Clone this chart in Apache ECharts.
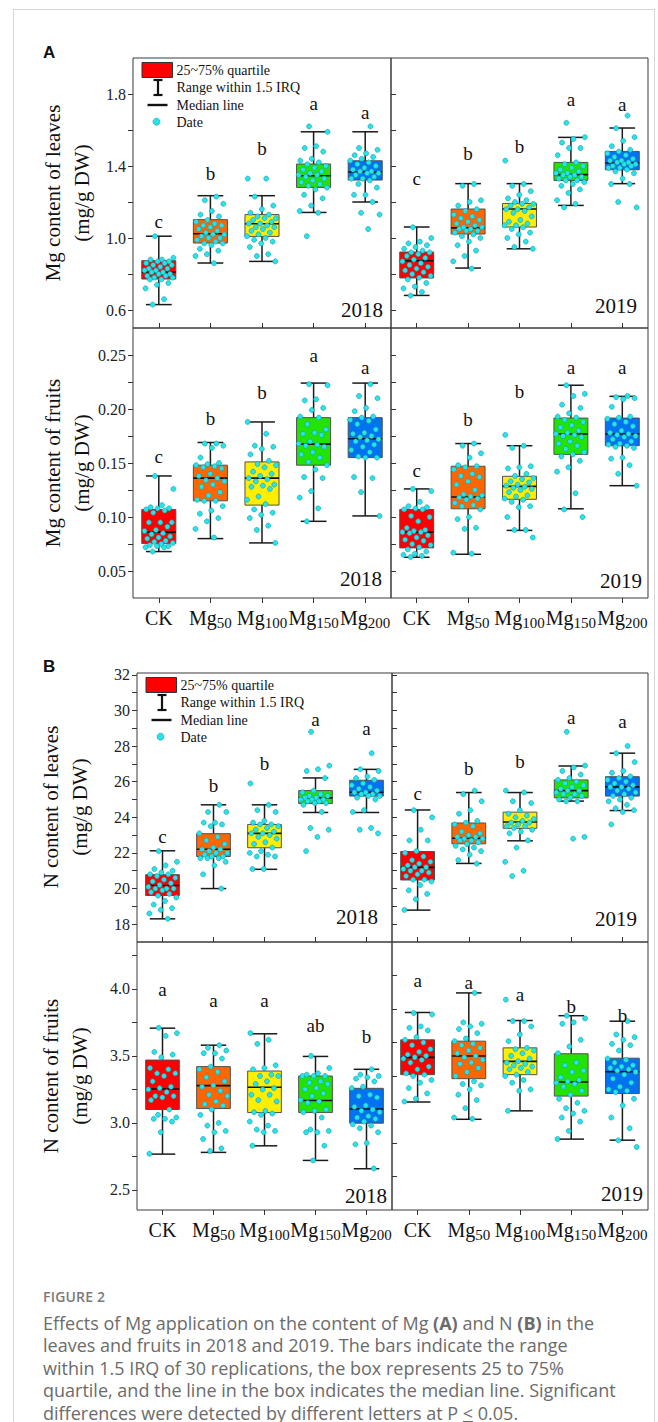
<!DOCTYPE html>
<html><head><meta charset="utf-8">
<script src="https://cdn.jsdelivr.net/npm/echarts@6/dist/echarts.min.js"></script>
<style>
html,body{margin:0;padding:0;background:#fff;}
#frame{position:absolute;left:13px;top:9px;width:640px;height:1500px;border:1.5px solid #d6d6d6;border-bottom:none;}
#chart{position:absolute;left:0;top:0;width:658px;height:1422px;}
#cap{position:absolute;left:43px;top:1287px;width:612px;font-family:'Open Sans',sans-serif;color:#6b6b6b;}
#cap .t{font-size:14px;font-weight:600;line-height:20px;color:#7a7a7a;letter-spacing:0.2px;}
#cap .d{font-size:18px;line-height:22.5px;margin-top:4.5px;white-space:nowrap;}
</style></head>
<body>
<div id="frame"></div>
<div id="chart"></div>
<div id="cap"><div class="t">FIGURE 2</div><div class="d">Effects of Mg application on the content of Mg <b>(A)</b> and N <b>(B)</b> in the<br>leaves and fruits in 2018 and 2019. The bars indicate the range<br>within 1.5 IRQ of 30 replications, the box represents 25 to 75%<br>quartile, and the line in the box indicates the median line. Significant<br>differences were detected by different letters at P <span style="text-decoration:underline">&lt;</span> 0.05.</div></div>
<script>
// ---------- DATA ----------
const categories = ['CK', 'Mg50', 'Mg100', 'Mg150', 'Mg200'];
const years = ['2018', '2019'];

const mgLeafTicks = [0.6, 0.8, 1.0, 1.2, 1.4, 1.6, 1.8];
const mgLeafLabels = [0.6, 1.0, 1.4, 1.8];
const mgFruitTicks = [0.05, 0.075, 0.1, 0.125, 0.15, 0.175, 0.2, 0.225, 0.25];
const mgFruitLabels = [0.05, 0.10, 0.15, 0.20, 0.25];
const nLeafTicks = [18, 19, 20, 21, 22, 23, 24, 25, 26, 27, 28, 29, 30, 31, 32];
const nLeafLabels = [18, 20, 22, 24, 26, 28, 30, 32];
const nFruitTicks = [2.5, 2.75, 3.0, 3.25, 3.5, 3.75, 4.0, 4.25];
const nFruitLabels = [2.5, 3.0, 3.5, 4.0];
const nFruit2019Ticks = [2.6, 2.85, 3.1, 3.35, 3.6, 3.85, 4.1];

// box stats: [lower whisker, Q1, median, Q3, upper whisker]
const mgLeaf2018Box = [[0.63,0.772,0.811,0.874,1.01],[0.861,0.972,1.024,1.102,1.235],[0.87,1.009,1.079,1.13,1.235],[1.142,1.281,1.346,1.411,1.59],[1.20,1.322,1.367,1.429,1.59]];
const mgLeaf2019Box = [[0.681,0.778,0.874,0.922,1.061],[0.833,1.022,1.056,1.161,1.302],[0.94,1.061,1.161,1.192,1.302],[1.181,1.32,1.352,1.42,1.559],[1.302,1.379,1.417,1.481,1.611]];
const mgFruit2018Box = [[0.068,0.0755,0.086,0.107,0.138],[0.080,0.115,0.136,0.148,0.169],[0.076,0.111,0.136,0.151,0.188],[0.096,0.148,0.1675,0.192,0.224],[0.101,0.155,0.1724,0.192,0.224]];
const mgFruit2019Box = [[0.0627,0.0714,0.086,0.107,0.126],[0.0655,0.1076,0.1185,0.147,0.168],[0.0876,0.1164,0.1284,0.1377,0.166],[0.1076,0.158,0.1768,0.1916,0.222],[0.129,0.166,0.1768,0.1916,0.2117]];
const nLeaf2018Box = [[18.30,19.61,20.17,20.78,22.12],[20.0,21.80,22.21,23.08,24.70],[21.08,22.29,23.10,23.60,24.70],[24.27,24.77,25.09,25.50,26.21],[24.27,25.19,25.41,26.08,26.69]];
const nLeaf2019Box = [[18.79,20.48,21.19,22.08,24.41],[21.41,22.51,22.82,23.68,25.39],[22.68,23.38,23.74,24.29,25.39],[24.91,25.09,25.50,26.10,26.88],[24.38,25.19,25.71,26.28,27.60]];
const nFruit2018Box = [[2.767,3.10,3.253,3.469,3.707],[2.78,3.107,3.278,3.42,3.58],[2.829,3.077,3.266,3.387,3.665],[2.72,3.077,3.167,3.35,3.496],[2.658,2.998,3.104,3.258,3.40]];
const nFruit2019Box = [[3.156,3.36,3.489,3.62,3.824],[3.027,3.33,3.499,3.61,3.97],[3.09,3.36,3.459,3.56,3.764],[2.879,3.20,3.305,3.516,3.80],[2.871,3.219,3.382,3.483,3.759]];

// individual replicates
const mgLeaf2018Pts = [
 [1.01,0.89,0.88,0.88,0.87,0.87,0.86,0.86,0.85,0.85,0.84,0.83,0.83,0.82,0.82,0.81,0.81,0.80,0.80,0.79,0.79,0.78,0.78,0.77,0.77,0.75,0.74,0.72,0.66,0.63],
 [1.23,1.21,1.19,1.15,1.13,1.12,1.10,1.09,1.08,1.07,1.07,1.06,1.05,1.04,1.03,1.02,1.02,1.01,1.00,1.00,0.99,0.98,0.97,0.97,0.96,0.94,0.93,0.91,0.90,0.86],
 [1.33,1.33,1.23,1.18,1.16,1.14,1.13,1.12,1.11,1.11,1.10,1.09,1.08,1.08,1.07,1.06,1.06,1.05,1.04,1.03,1.02,1.01,1.00,0.99,0.98,0.97,0.95,0.91,0.90,0.87],
 [1.62,1.59,1.51,1.50,1.48,1.44,1.43,1.42,1.41,1.40,1.39,1.38,1.37,1.36,1.35,1.35,1.34,1.33,1.32,1.31,1.30,1.29,1.28,1.27,1.24,1.22,1.18,1.15,1.14,1.01],
 [1.62,1.50,1.49,1.47,1.46,1.45,1.44,1.43,1.42,1.41,1.40,1.39,1.38,1.37,1.37,1.36,1.36,1.35,1.34,1.33,1.33,1.32,1.30,1.28,1.24,1.24,1.20,1.14,1.13,1.05]];
const mgLeaf2019Pts = [
 [1.06,1.00,0.98,0.97,0.96,0.95,0.94,0.93,0.92,0.92,0.91,0.90,0.89,0.88,0.87,0.86,0.85,0.84,0.83,0.82,0.81,0.80,0.79,0.78,0.77,0.75,0.73,0.72,0.70,0.68],
 [1.30,1.29,1.21,1.20,1.18,1.16,1.15,1.13,1.12,1.11,1.10,1.09,1.08,1.07,1.06,1.06,1.05,1.05,1.04,1.04,1.03,1.02,1.01,1.00,0.98,0.96,0.93,0.90,0.87,0.83],
 [1.43,1.30,1.29,1.26,1.24,1.22,1.21,1.20,1.19,1.19,1.18,1.17,1.16,1.16,1.15,1.14,1.12,1.10,1.09,1.08,1.07,1.07,1.06,1.05,1.03,1.02,1.00,0.98,0.95,0.94],
 [1.64,1.56,1.55,1.53,1.50,1.50,1.46,1.42,1.41,1.40,1.39,1.38,1.37,1.36,1.36,1.35,1.35,1.34,1.34,1.33,1.32,1.32,1.31,1.30,1.29,1.27,1.25,1.21,1.19,1.17],
 [1.68,1.61,1.56,1.54,1.51,1.49,1.48,1.47,1.46,1.45,1.44,1.43,1.43,1.42,1.42,1.41,1.41,1.40,1.40,1.39,1.39,1.38,1.37,1.36,1.33,1.30,1.30,1.20,1.17]];
const mgFruit2018Pts = [
 [0.138,0.126,0.111,0.109,0.108,0.108,0.107,0.106,0.104,0.095,0.095,0.095,0.091,0.088,0.087,0.085,0.084,0.082,0.081,0.080,0.078,0.077,0.076,0.075,0.074,0.073,0.073,0.072,0.072,0.068],
 [0.168,0.168,0.166,0.164,0.155,0.150,0.149,0.148,0.147,0.146,0.145,0.140,0.138,0.136,0.134,0.133,0.130,0.128,0.123,0.120,0.116,0.115,0.115,0.110,0.106,0.103,0.099,0.096,0.089,0.081],
 [0.188,0.177,0.166,0.165,0.163,0.158,0.152,0.149,0.148,0.146,0.142,0.140,0.138,0.136,0.135,0.133,0.130,0.129,0.128,0.126,0.119,0.116,0.112,0.107,0.104,0.102,0.099,0.092,0.088,0.076],
 [0.223,0.222,0.209,0.208,0.201,0.199,0.193,0.192,0.186,0.181,0.178,0.177,0.176,0.170,0.168,0.167,0.166,0.165,0.160,0.158,0.155,0.151,0.148,0.144,0.137,0.136,0.124,0.118,0.108,0.096],
 [0.223,0.212,0.210,0.201,0.198,0.193,0.192,0.190,0.189,0.186,0.181,0.178,0.177,0.175,0.174,0.172,0.171,0.170,0.167,0.165,0.162,0.160,0.156,0.155,0.155,0.137,0.136,0.123,0.101]];
const mgFruit2019Pts = [
 [0.126,0.124,0.114,0.110,0.109,0.108,0.107,0.107,0.101,0.100,0.096,0.090,0.088,0.087,0.086,0.086,0.085,0.083,0.081,0.079,0.078,0.075,0.074,0.072,0.070,0.068,0.066,0.065,0.064,0.063],
 [0.168,0.166,0.159,0.155,0.148,0.147,0.146,0.144,0.140,0.138,0.137,0.133,0.130,0.125,0.121,0.120,0.119,0.118,0.117,0.116,0.113,0.111,0.110,0.107,0.100,0.098,0.090,0.089,0.067,0.066],
 [0.176,0.166,0.164,0.147,0.146,0.145,0.140,0.138,0.136,0.135,0.133,0.132,0.130,0.129,0.128,0.127,0.126,0.125,0.123,0.120,0.119,0.117,0.116,0.114,0.110,0.109,0.100,0.088,0.088,0.081],
 [0.222,0.214,0.212,0.204,0.201,0.196,0.193,0.192,0.190,0.188,0.185,0.183,0.180,0.178,0.177,0.176,0.175,0.174,0.170,0.168,0.166,0.163,0.160,0.158,0.156,0.152,0.146,0.142,0.122,0.107,0.100],
 [0.212,0.211,0.210,0.209,0.202,0.193,0.192,0.191,0.188,0.186,0.184,0.180,0.178,0.177,0.176,0.175,0.174,0.172,0.170,0.168,0.167,0.166,0.165,0.164,0.155,0.154,0.148,0.140,0.129]];
const nLeaf2018Pts = [
 [22.1,21.5,21.3,21.1,21.0,20.9,20.8,20.8,20.7,20.6,20.5,20.4,20.3,20.2,20.1,20.0,20.0,20.0,19.9,19.8,19.7,19.6,19.5,19.3,19.1,18.9,18.8,18.6,18.3],
 [24.7,24.3,24.3,23.7,23.7,23.6,23.5,23.1,22.9,22.7,22.5,22.3,22.2,22.2,22.1,22.0,22.0,21.9,21.8,21.8,21.7,21.7,21.7,21.5,21.3,20.8,20.0],
 [25.9,24.7,24.4,24.3,23.8,23.7,23.6,23.6,23.5,23.4,23.3,23.2,23.1,23.1,23.0,22.9,22.8,22.6,22.5,22.3,22.1,22.0,21.9,21.8,21.8,21.1,21.1],
 [28.8,26.9,26.7,26.6,26.2,25.5,25.4,25.3,25.2,25.2,25.1,25.1,25.0,25.0,25.0,24.9,24.9,24.8,24.8,24.7,24.3,23.4,23.3,22.9,22.1],
 [27.6,26.7,26.6,26.3,26.2,26.1,25.9,25.8,25.7,25.6,25.5,25.4,25.4,25.3,25.3,25.2,25.2,25.1,25.0,24.4,24.3,23.4,23.3,23.1]];
const nLeaf2019Pts = [
 [24.4,24.0,23.3,22.7,22.7,22.1,22.0,21.8,21.6,21.5,21.4,21.3,21.2,21.2,21.1,21.0,21.0,20.9,20.8,20.7,20.5,20.5,20.4,20.2,19.9,19.7,19.4,18.8],
 [25.5,25.3,24.9,24.4,24.2,23.8,23.7,23.6,23.5,23.2,23.1,23.0,22.9,22.9,22.8,22.8,22.7,22.7,22.6,22.5,22.4,22.3,22.2,22.1,21.9,21.6,21.4],
 [25.5,25.4,24.9,24.8,24.4,24.2,24.1,24.0,23.9,23.8,23.7,23.7,23.6,23.5,23.5,23.4,23.3,23.2,23.1,22.7,22.3,21.5,21.0,20.7],
 [28.8,26.9,26.8,26.6,26.4,26.2,26.1,26.0,25.9,25.8,25.7,25.6,25.5,25.5,25.4,25.3,25.3,25.2,25.1,25.0,24.9,24.9,22.9,22.8],
 [28.0,27.6,27.1,26.6,26.5,26.3,26.2,26.1,26.0,25.9,25.8,25.7,25.7,25.6,25.5,25.4,25.3,25.2,25.1,25.0,24.9,24.7,24.5,24.4,24.3,23.6]];
const nFruit2018Pts = [
 [3.71,3.67,3.65,3.53,3.51,3.49,3.41,3.40,3.37,3.37,3.35,3.31,3.27,3.26,3.25,3.23,3.20,3.20,3.19,3.17,3.10,3.06,3.04,3.03,3.03,3.01,2.93,2.77],
 [3.58,3.56,3.54,3.52,3.52,3.48,3.42,3.40,3.38,3.34,3.31,3.28,3.27,3.24,3.21,3.20,3.16,3.14,3.13,3.10,3.06,3.00,2.98,2.94,2.93,2.88,2.81,2.79],
 [3.67,3.62,3.59,3.43,3.41,3.40,3.36,3.35,3.35,3.31,3.29,3.26,3.25,3.21,3.21,3.17,3.16,3.09,3.08,3.07,3.06,3.01,2.98,2.95,2.94,2.93,2.83],
 [3.50,3.41,3.37,3.36,3.35,3.35,3.35,3.31,3.30,3.29,3.26,3.25,3.22,3.20,3.17,3.16,3.15,3.10,3.09,3.08,3.04,2.95,2.94,2.93,2.93,2.83,2.72],
 [3.40,3.36,3.35,3.34,3.33,3.31,3.27,3.26,3.21,3.20,3.19,3.13,3.12,3.10,3.09,3.08,3.05,3.04,3.03,3.01,2.99,2.98,2.96,2.93,2.85,2.84,2.66]];
const nFruit2019Pts = [
 [3.82,3.81,3.72,3.71,3.69,3.64,3.62,3.60,3.58,3.55,3.53,3.51,3.50,3.49,3.48,3.47,3.45,3.42,3.40,3.37,3.36,3.35,3.32,3.30,3.26,3.22,3.18,3.16],
 [3.97,3.75,3.74,3.72,3.70,3.67,3.63,3.61,3.59,3.58,3.56,3.54,3.52,3.50,3.49,3.47,3.45,3.44,3.41,3.38,3.35,3.31,3.29,3.28,3.25,3.21,3.17,3.11,3.04,3.03],
 [3.92,3.76,3.76,3.72,3.66,3.61,3.56,3.55,3.54,3.52,3.50,3.48,3.46,3.45,3.44,3.43,3.42,3.41,3.40,3.38,3.36,3.35,3.32,3.30,3.25,3.24,3.09],
 [3.80,3.78,3.75,3.74,3.62,3.57,3.52,3.45,3.43,3.39,3.38,3.34,3.32,3.31,3.30,3.29,3.27,3.24,3.21,3.18,3.15,3.11,3.09,3.07,3.04,3.01,2.94,2.88],
 [3.76,3.66,3.64,3.62,3.59,3.58,3.54,3.48,3.47,3.45,3.43,3.42,3.41,3.40,3.39,3.38,3.36,3.33,3.30,3.27,3.25,3.24,3.23,3.18,3.13,3.04,2.96,2.87,2.82]];

// significance letters and the value at which each letter sits
const mgLeaf2018Letters = ['c','b','b','a','a'];
const mgLeaf2018LetterY = [1.092, 1.357, 1.50, 1.75, 1.698];
const mgLeaf2019Letters = ['c','b','b','a','a'];
const mgLeaf2019LetterY = [1.333, 1.472, 1.509, 1.768, 1.741];
const mgFruit2018Letters = ['c','b','b','a','a'];
const mgFruit2018LetterY = [0.156, 0.191, 0.2155, 0.25, 0.238];
const mgFruit2019Letters = ['c','b','b','a','a'];
const mgFruit2019LetterY = [0.143, 0.190, 0.216, 0.2387, 0.238];
const nLeaf2018Letters = ['c','b','b','a','a'];
const nLeaf2018LetterY = [22.92, 25.80, 27.0, 29.51, 28.96];
const nLeaf2019Letters = ['c','b','b','a','a'];
const nLeaf2019LetterY = [25.33, 26.73, 27.14, 29.61, 29.37];
const nFruit2018Letters = ['a','a','a','ab','b'];
const nFruit2018LetterY = [3.995, 3.913, 3.913, 3.727, 3.647];
const nFruit2019Letters = ['a','a','a','b','b'];
const nFruit2019LetterY = [4.062, 4.045, 3.955, 3.868, 3.80];

// ---------- LAYOUT / STYLE ----------
const SERIF = '"Liberation Serif", "Times New Roman", serif';
const boxColors = ['#FF0000', '#FF6600', '#FFEE00', '#22E400', '#0072F2'];
const dotFill = '#27E4EA', dotStroke = '#129CAA';

const panels = [
 {g:[133,58,258,270], yr:[0.5,2.0], ticks:mgLeafTicks, labels:mgLeafLabels, dec:1, showY:true, bottom:false, box:mgLeaf2018Box, pts:mgLeaf2018Pts, let:mgLeaf2018Letters, letY:mgLeaf2018LetterY, year:years[0], yearAt:[383,310]},
 {g:[391,58,257,270], yr:[0.5,2.0], ticks:mgLeafTicks, labels:mgLeafLabels, dec:1, showY:false, bottom:false, box:mgLeaf2019Box, pts:mgLeaf2019Pts, let:mgLeaf2019Letters, letY:mgLeaf2019LetterY, year:years[1], yearAt:[637,306]},
 {g:[133,328,258,270], yr:[0.025,0.275], ticks:mgFruitTicks, labels:mgFruitLabels, dec:2, showY:true, bottom:true, box:mgFruit2018Box, pts:mgFruit2018Pts, let:mgFruit2018Letters, letY:mgFruit2018LetterY, year:years[0], yearAt:[382,579]},
 {g:[391,328,257,270], yr:[0.025,0.275], ticks:mgFruitTicks, labels:mgFruitLabels, dec:2, showY:false, bottom:true, box:mgFruit2019Box, pts:mgFruit2019Pts, let:mgFruit2019Letters, letY:mgFruit2019LetterY, year:years[1], yearAt:[642,581]},
 {g:[137,673,255,269], yr:[17,32.1], ticks:nLeafTicks, labels:nLeafLabels, dec:0, showY:true, bottom:false, box:nLeaf2018Box, pts:nLeaf2018Pts, let:nLeaf2018Letters, letY:nLeaf2018LetterY, year:years[0], yearAt:[378,917]},
 {g:[392,673,256,269], yr:[17,32.1], ticks:nLeafTicks, labels:nLeafLabels, dec:0, showY:false, bottom:false, box:nLeaf2019Box, pts:nLeaf2019Pts, let:nLeaf2019Letters, letY:nLeaf2019LetterY, year:years[1], yearAt:[637,919]},
 {g:[137,942,255,268], yr:[2.35,4.35], ticks:nFruitTicks, labels:nFruitLabels, dec:1, showY:true, bottom:true, box:nFruit2018Box, pts:nFruit2018Pts, let:nFruit2018Letters, letY:nFruit2018LetterY, year:years[0], yearAt:[387,1196]},
 {g:[392,942,256,268], yr:[2.35,4.35], ticks:nFruit2019Ticks, labels:nFruitLabels, dec:1, showY:false, bottom:true, box:nFruit2019Box, pts:nFruit2019Pts, let:nFruit2019Letters, letY:nFruit2019LetterY, year:years[1], yearAt:[643,1194]}
];

const yTitles = [
 {text:'Mg content of leaves\n(mg/g DW)', at:[67.5,193]},
 {text:'Mg content of fruits\n(mg/g DW)', at:[67,463]},
 {text:'N content of leaves\n(mg/g DW)', at:[65.5,807]},
 {text:'N content of fruits\n(mg/g DW)', at:[65,1076]}
];

const jit = k => ((k * 0.61803398875 + 0.37) % 1) * 2 - 1;

const xLabelFmt = v => v === 'CK' ? '{m|CK}' : '{m|Mg}{s|' + v.slice(2) + '}';

const option = {animation:false, grid:[], xAxis:[], yAxis:[], series:[], graphic:[]};

panels.forEach((p, i) => {
  option.grid.push({left:p.g[0], top:p.g[1], width:p.g[2], height:p.g[3], show:true, borderColor:'#3a3a3a', borderWidth:1, backgroundColor:'transparent'});
  option.xAxis.push({type:'category', gridIndex:i, data:categories, boundaryGap:true,
    axisLine:{show:false}, splitLine:{show:false},
    axisTick:{show:true, interval:0, alignWithLabel:true, inside:!p.bottom, length:5, lineStyle:{color:'#333', width:1}},
    axisLabel:{show:p.bottom, interval:0, margin:8, formatter:xLabelFmt,
      rich:{m:{fontSize:20, fontFamily:SERIF, color:'#111', lineHeight:24},
            s:{fontSize:15, fontFamily:SERIF, color:'#111', lineHeight:15, verticalAlign:'bottom'}}}
  });
  option.yAxis.push({type:'value', gridIndex:i, min:p.yr[0], max:p.yr[1],
    axisLine:{show:false}, splitLine:{show:false},
    axisTick:{show:true, inside:!p.showY, length:5, customValues:p.ticks, lineStyle:{color:'#333', width:1}},
    axisLabel:{show:p.showY, customValues:p.labels, margin:7, fontSize:16, fontFamily:SERIF, color:'#222',
      formatter:v => Number(v).toFixed(p.dec)}
  });
  // boxes + whiskers
  option.series.push({type:'custom', xAxisIndex:i, yAxisIndex:i, z:2,
    data:p.box.map((b, c) => [c].concat(b)),
    renderItem:(params, api) => {
      const c = api.value(0);
      const lo = api.coord([c, api.value(1)]), q1 = api.coord([c, api.value(2)]),
            md = api.coord([c, api.value(3)]), q3 = api.coord([c, api.value(4)]), hi = api.coord([c, api.value(5)]);
      const band = api.size([1, 0])[0];
      const bw = band * 0.66, cw = band * 0.5, x = lo[0];
      const ls = {stroke:'#1a1a1a', lineWidth:1.5};
      return {type:'group', children:[
        {type:'line', shape:{x1:x, y1:hi[1], x2:x, y2:lo[1]}, style:ls},
        {type:'line', shape:{x1:x-cw/2, y1:hi[1], x2:x+cw/2, y2:hi[1]}, style:ls},
        {type:'line', shape:{x1:x-cw/2, y1:lo[1], x2:x+cw/2, y2:lo[1]}, style:ls},
        {type:'rect', shape:{x:x-bw/2, y:q3[1], width:bw, height:q1[1]-q3[1]}, style:{fill:boxColors[c], stroke:'#505050', lineWidth:1}},
        {type:'line', shape:{x1:x-bw/2, y1:md[1], x2:x+bw/2, y2:md[1]}, style:{stroke:'#111', lineWidth:1.6}}
      ]};
    }
  });
  // replicate points
  const ptsData = [];
  p.pts.forEach((arr, c) => arr.forEach((v, k) => ptsData.push([c, v, k + c * 7])));
  option.series.push({type:'custom', xAxisIndex:i, yAxisIndex:i, z:3, data:ptsData,
    renderItem:(params, api) => {
      const pt = api.coord([api.value(0), api.value(1)]);
      const band = api.size([1, 0])[0];
      return {type:'circle', shape:{cx:pt[0] + jit(api.value(2)) * band * 0.29, cy:pt[1], r:2.5},
        style:{fill:dotFill, stroke:dotStroke, lineWidth:0.6}};
    }
  });
  // significance letters
  option.series.push({type:'custom', xAxisIndex:i, yAxisIndex:i, z:4,
    data:p.letY.map((v, c) => [c, v]),
    renderItem:(params, api) => {
      const pt = api.coord([api.value(0), api.value(1)]);
      return {type:'text', x:pt[0], y:pt[1], style:{text:p.let[params.dataIndex], fill:'#111', font:'19px ' + SERIF, align:'center', verticalAlign:'middle'}};
    }
  });
  // year tag
  option.graphic.push({type:'text', x:p.yearAt[0], y:p.yearAt[1], z:10,
    style:{text:p.year, fill:'#111', font:'21px ' + SERIF, align:'right', textAlign:'right', verticalAlign:'middle', textVerticalAlign:'middle'}});
});

yTitles.forEach(t => {
  option.graphic.push({type:'text', x:t.at[0], y:t.at[1], rotation:Math.PI/2,
    style:{text:t.text, fill:'#111', font:'21px ' + SERIF, lineHeight:29, align:'center', textAlign:'center', verticalAlign:'middle', textVerticalAlign:'middle'}});
});

function legendEls(ox, oy) {
  const f = '14px ' + SERIF;
  const tx = (y, s) => ({type:'text', x:ox+43.5, y:oy+y, style:{text:s, fill:'#111', font:f, align:'left', textAlign:'left', verticalAlign:'middle', textVerticalAlign:'middle'}});
  const ln = (x1, y1, x2, y2, w) => ({type:'line', shape:{x1:ox+x1, y1:oy+y1, x2:ox+x2, y2:oy+y2}, style:{stroke:'#111', lineWidth:w}});
  return [
    {type:'rect', shape:{x:ox+9, y:oy+4.5, width:30.5, height:15}, style:{fill:'#FF0000', stroke:'#333', lineWidth:1}},
    tx(12.5, '25~75% quartile'),
    ln(25, 22, 25, 37, 2.2), ln(20.5, 22, 29.5, 22, 2.2), ln(20.5, 37, 29.5, 37, 2.2),
    tx(29.5, 'Range within 1.5 IRQ'),
    ln(14.5, 47, 34.5, 47, 2.4),
    tx(47, 'Median line'),
    {type:'circle', shape:{cx:ox+23.5, cy:oy+63.7, r:3.5}, style:{fill:dotFill, stroke:dotStroke, lineWidth:0.6}},
    tx(64, 'Date')
  ];
}
legendEls(133, 58).concat(legendEls(137, 673)).forEach(e => option.graphic.push(e));

option.graphic.push({type:'text', x:43, y:52.5, style:{text:'A', fill:'#111', font:'bold 17px "Liberation Sans", Arial, sans-serif', verticalAlign:'middle', textVerticalAlign:'middle'}});
option.graphic.push({type:'text', x:43, y:666, style:{text:'B', fill:'#111', font:'bold 17px "Liberation Sans", Arial, sans-serif', verticalAlign:'middle', textVerticalAlign:'middle'}});

const chart = echarts.init(document.getElementById('chart'), null, {renderer:'svg'});
chart.setOption(option);
</script>
</body></html>
